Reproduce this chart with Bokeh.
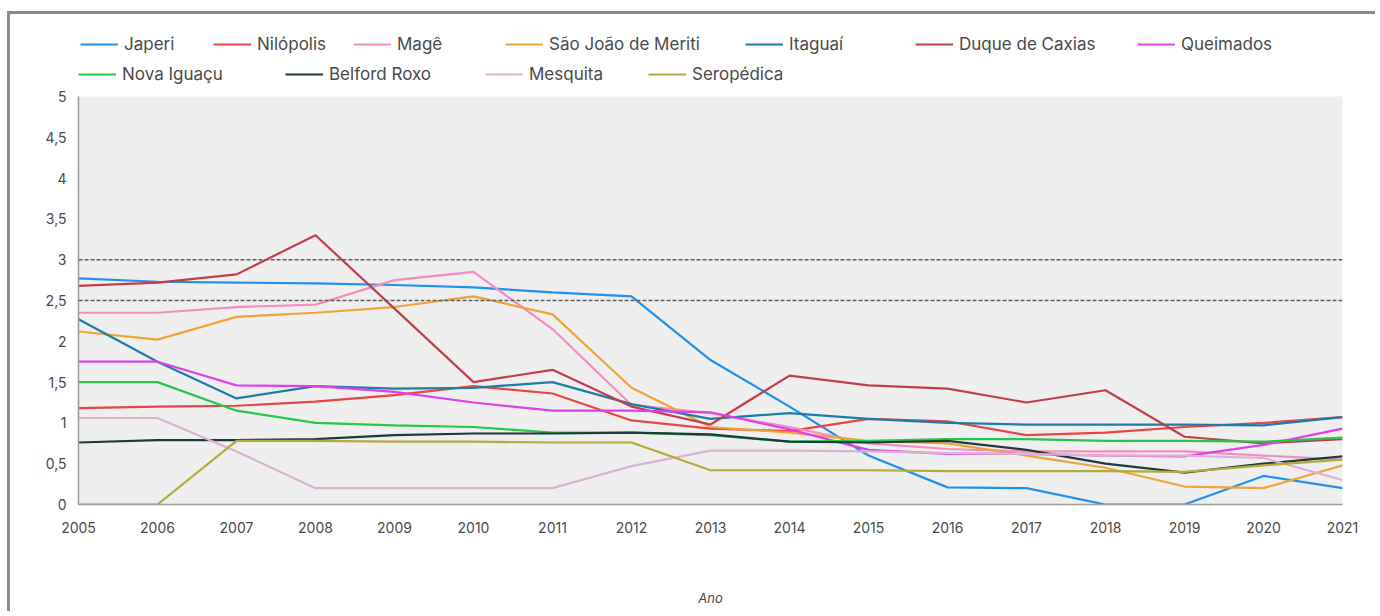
from bokeh.plotting import figure
from bokeh.models import Legend, LegendItem, Span, FixedTicker, CustomJSTickFormatter, BoxAnnotation
from bokeh.embed import file_html
from bokeh.resources import INLINE

# ---------------- data ----------------
years = list(range(2005, 2022))
y_ticks = [0, 0.5, 1, 1.5, 2, 2.5, 3, 3.5, 4, 4.5, 5]
reference_levels = [3, 2.5]

japeri = [2.77, 2.73, 2.72, 2.71, 2.69, 2.66, 2.60, 2.55, 1.77, 1.20, 0.60, 0.21, 0.20, 0.00, 0.00, 0.35, 0.20]
nilopolis = [1.18, 1.20, 1.21, 1.26, 1.34, 1.45, 1.36, 1.03, 0.93, 0.90, 1.05, 1.02, 0.85, 0.88, 0.95, 1.00, 1.07]
mage = [2.35, 2.35, 2.42, 2.45, 2.75, 2.85, 2.15, 1.22, 1.12, 0.95, 0.75, 0.68, 0.65, 0.65, 0.65, 0.60, 0.55]
sao_joao = [2.12, 2.02, 2.30, 2.35, 2.42, 2.55, 2.33, 1.43, 0.95, 0.88, 0.78, 0.75, 0.60, 0.45, 0.22, 0.20, 0.48]
itaguai = [2.27, 1.75, 1.30, 1.45, 1.42, 1.43, 1.50, 1.23, 1.05, 1.12, 1.05, 1.00, 0.98, 0.98, 0.98, 0.97, 1.07]
duque = [2.68, 2.72, 2.82, 3.30, 2.40, 1.50, 1.65, 1.20, 0.98, 1.58, 1.46, 1.42, 1.25, 1.40, 0.83, 0.75, 0.80]
queimados = [1.75, 1.75, 1.46, 1.45, 1.38, 1.25, 1.15, 1.15, 1.13, 0.92, 0.67, 0.62, 0.62, 0.60, 0.59, 0.73, 0.93]
nova_iguacu = [1.50, 1.50, 1.15, 1.00, 0.97, 0.95, 0.88, 0.88, 0.85, 0.77, 0.78, 0.80, 0.80, 0.78, 0.78, 0.77, 0.82]
belford_roxo = [0.76, 0.79, 0.79, 0.80, 0.85, 0.87, 0.87, 0.88, 0.86, 0.77, 0.76, 0.78, 0.67, 0.50, 0.39, 0.50, 0.59]
mesquita = [1.06, 1.06, 0.65, 0.20, 0.20, 0.20, 0.20, 0.47, 0.66, 0.66, 0.65, 0.63, 0.62, 0.60, 0.60, 0.57, 0.30]
seropedica = [0.00, 0.00, 0.78, 0.78, 0.77, 0.77, 0.76, 0.76, 0.42, 0.42, 0.42, 0.41, 0.41, 0.41, 0.40, 0.48, 0.55]

names = ["Japeri", "Nilópolis", "Magê", "São João de Meriti", "Itaguaí", "Duque de Caxias",
         "Queimados", "Nova Iguaçu", "Belford Roxo", "Mesquita", "Seropédica"]
values = [japeri, nilopolis, mage, sao_joao, itaguai, duque, queimados,
          nova_iguacu, belford_roxo, mesquita, seropedica]

# ---------------- styles / layout ----------------
colors = ["#2191ee", "#e84545", "#f58cc0", "#f0a438", "#1c7ea6", "#c23e4a",
          "#e040ec", "#26c54c", "#1e3a3a", "#dbb2d2", "#b3aa3c"]
# legend item positions (screen px, relative to the frame's bottom-left)
legend_pos = [(2, 450), (135, 450), (275, 450), (427, 450), (667, 450), (837, 450), (1059, 450),
              (0, 420), (207, 420), (407, 420), (570, 420)]

FONT = "Inter"
TXT = "#4a4a4a"

# frame spans page y 20..504; data area (0..5) occupies y 96..504
DATA_TOP = 5
Y_TOP = DATA_TOP * (504 - 20) / (504 - 96)

p = figure(width=1368, height=600, output_backend="svg", toolbar_location=None,
           x_range=(2005, 2021), y_range=(0, Y_TOP),
           min_border_left=68, min_border_right=36, min_border_top=6, min_border_bottom=110)
p.styles = {"border-top": "3px solid #8a8a8a", "border-left": "3px solid #8a8a8a",
            "margin-top": "11px", "margin-left": "7px"}

p.background_fill_color = "white"
p.border_fill_color = "white"
p.outline_line_color = None
p.xgrid.grid_line_color = None
p.ygrid.grid_line_color = None

# grey plotting area (0..5)
p.add_layout(BoxAnnotation(bottom=0, top=DATA_TOP, fill_color="#efefef", fill_alpha=1,
                           line_color=None, level="underlay"))

p.xaxis.ticker = FixedTicker(ticks=years)
p.yaxis.ticker = FixedTicker(ticks=y_ticks)
p.yaxis.bounds = (0, DATA_TOP)
p.yaxis.formatter = CustomJSTickFormatter(code="return tick.toString().replace('.', ',');")

for ax in (p.xaxis, p.yaxis):
    ax.axis_line_color = "#9a9a9a"
    ax.axis_line_width = 1.5
    ax.major_tick_line_color = None
    ax.minor_tick_line_color = None
    ax.major_label_text_font = FONT
    ax.major_label_text_font_size = "14px"
    ax.major_label_text_color = TXT
p.xaxis.major_label_standoff = 11
p.yaxis.major_label_standoff = 6
p.xaxis.axis_label = "Ano"
p.xaxis.axis_label_text_font = FONT
p.xaxis.axis_label_text_font_size = "13px"
p.xaxis.axis_label_text_font_style = "italic"
p.xaxis.axis_label_text_color = TXT
p.xaxis.axis_label_standoff = 54

for lvl in reference_levels:
    p.add_layout(Span(location=lvl, dimension="width", line_color="#5e5e5e",
                      line_width=1.5, line_dash="4 2"))

renderers = []
for name, vals, col in zip(names, values, colors):
    r = p.line(years, vals, line_color=col, line_width=2.2)
    renderers.append(r)

for name, r, pos in zip(names, renderers, legend_pos):
    leg = Legend(items=[LegendItem(label=name, renderers=[r])], location=pos,
                 orientation="horizontal", padding=0, margin=0, spacing=0,
                 glyph_width=38, glyph_height=18, label_standoff=6,
                 label_text_font=FONT, label_text_font_size="17px", label_text_color=TXT,
                 border_line_color=None, background_fill_alpha=0, click_policy="none")
    p.add_layout(leg, "center")

open("out.html", "w").write(file_html(p, INLINE))
